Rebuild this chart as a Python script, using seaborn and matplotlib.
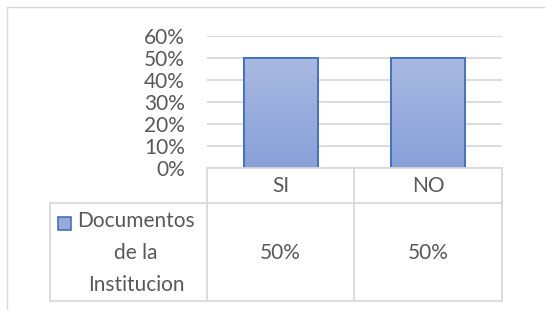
import numpy as np
import matplotlib
matplotlib.use("Agg")
import matplotlib.pyplot as plt
import seaborn as sns
from matplotlib.lines import Line2D
from matplotlib.patches import Rectangle

categories = ["SI", "NO"]
values = [0.50, 0.50]
series_name = "Documentos\nde la\nInstitucion"
yticks = [0.0, 0.1, 0.2, 0.3, 0.4, 0.5, 0.6]

sns.set_theme(style="white")
plt.rcParams['font.family'] = ['Lato', 'DejaVu Sans']

TEXT = "#595959"
GRID = "#d9d9d9"
EDGE = "#4472c4"
FS = 15

W, H = 545, 310
fig = plt.figure(figsize=(W / 100, H / 100), dpi=100)
fig.patch.set_facecolor("white")

def fx(px):
    return px / W

def fy(py):
    return 1 - py / H

ax_l, ax_r, ax_t, ax_b = 207, 502, 36, 168
ax = fig.add_axes([fx(ax_l), fy(ax_b), fx(ax_r - ax_l), (ax_b - ax_t) / H])

sns.barplot(x=categories, y=values, ax=ax, width=0.5, color="#97aadb",
            edgecolor=EDGE, linewidth=1.4, zorder=3)
ax.set_xlim(-0.5, len(categories) - 0.5)
ax.set_ylim(0, 0.6)
ax.set_yticks(yticks)
ax.set_yticklabels([f"{t:.0%}" for t in yticks], color=TEXT, fontsize=FS)
ax.tick_params(axis='y', length=0, pad=16)
ax.set_xticks([])
ax.set_xlabel("")
ax.set_ylabel("")
for s in ax.spines.values():
    s.set_visible(False)
ax.yaxis.grid(True, color=GRID, linewidth=1.3, zorder=0)
ax.set_axisbelow(True)

# gradient fill inside bars
grad = np.linspace(0, 1, 256).reshape(-1, 1)
cmap = matplotlib.colors.LinearSegmentedColormap.from_list("g", ["#87a0d8", "#aab9e1"])
for p in list(ax.patches):
    x0, y0 = p.get_x(), p.get_y()
    w, h = p.get_width(), p.get_height()
    im = ax.imshow(grad, extent=[x0, x0 + w, y0, y0 + h], origin="lower",
                   cmap=cmap, aspect="auto", zorder=3.5)
    im.set_clip_path(p)
    ax.add_patch(Rectangle((x0, y0), w, h, fill=False, edgecolor=EDGE,
                           linewidth=1.4, zorder=4))
ax.set_xlim(-0.5, len(categories) - 0.5)
ax.set_ylim(0, 0.6)

# outer chart border (partial)
lw = 1.0
fig.add_artist(Line2D([fx(7), fx(545)], [fy(7), fy(7)], color=GRID, lw=lw))
fig.add_artist(Line2D([fx(7), fx(7)], [fy(7), fy(310)], color=GRID, lw=lw))

# data table
row1_t, row1_b, row2_b = 168, 203, 301
col_x = [207, 354, 502]
label_l = 50
tl = 1.3
fig.add_artist(Line2D([fx(207), fx(502)], [fy(row1_t)] * 2, color=GRID, lw=tl))
fig.add_artist(Line2D([fx(label_l), fx(502)], [fy(row1_b)] * 2, color=GRID, lw=tl))
fig.add_artist(Line2D([fx(label_l), fx(502)], [fy(row2_b)] * 2, color=GRID, lw=tl))
for cx in col_x:
    fig.add_artist(Line2D([fx(cx)] * 2, [fy(row1_t), fy(row2_b)], color=GRID, lw=tl))
fig.add_artist(Line2D([fx(label_l)] * 2, [fy(row1_b), fy(row2_b)], color=GRID, lw=tl))

for i, (c, v) in enumerate(zip(categories, values)):
    cx = (col_x[i] + col_x[i + 1]) / 2
    fig.text(fx(cx), fy((row1_t + row1_b) / 2 + 1), c, ha="center", va="center",
             color=TEXT, fontsize=FS)
    fig.text(fx(cx), fy((row1_b + row2_b) / 2 + 1), f"{v:.0%}", ha="center", va="center",
             color=TEXT, fontsize=FS)

# legend key + series name
fig.add_artist(Rectangle((fx(58), fy(230)), fx(13), 13 / H, facecolor="#97aadb",
                         edgecolor=EDGE, lw=1.2))
fig.text(fx(136), fy(253), series_name, ha="center", va="center",
         multialignment="center", color=TEXT, fontsize=FS, linespacing=1.75)

fig.savefig("out.png", dpi=100, facecolor="white")
